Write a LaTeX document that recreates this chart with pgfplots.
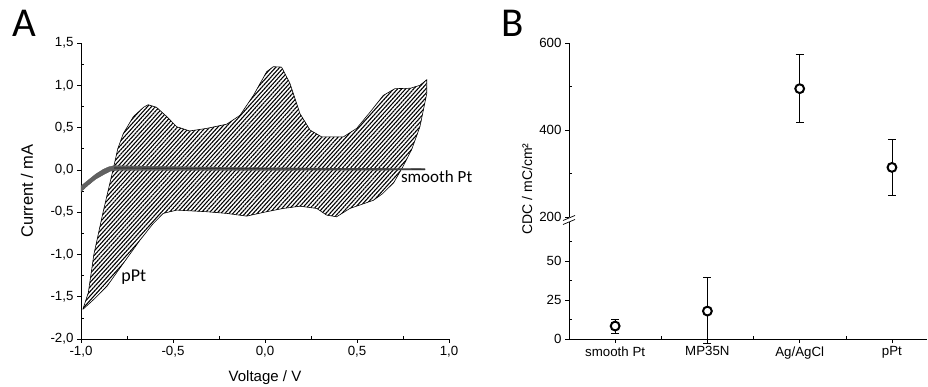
\documentclass[border=0pt]{standalone}
\usepackage{fontspec}
\setmainfont{Liberation Sans}
\newfontfamily\calfont{Carlito}
\usepackage{pgfplots}
\pgfplotsset{compat=1.18}
\usetikzlibrary{patterns.meta}
\begin{document}
\begin{tikzpicture}[x=1pt,y=1pt]
\useasboundingbox (0,0) rectangle (928,387);
\pgfplotsset{
  myaxis/.style={
    scale only axis,
    axis line style={line width=0.7pt},
    every tick/.style={black, line width=0.6pt},
    major tick length=4pt, minor tick length=3pt,
    tick align=outside,
    tick label style={font=\fontsize{13.3}{13.3}\selectfont},
    /pgf/number format/assume math mode=true,
  },
  cdcpts/.style={only marks, mark=*, mark size=4.4pt,
    mark options={draw=black, fill=white, line width=2pt},
    error bars/.cd, y dir=both, y explicit,
    error bar style={line width=0.8pt, black},
    error mark options={rotate=90, mark size=4pt, line width=0.8pt, black}},
}
% ---------------- Panel A ----------------
\begin{axis}[myaxis,
  at={(81pt,48pt)}, anchor=south west,
  width=368pt, height=296pt,
  xmin=-1, xmax=1, ymin=-2, ymax=1.5,
  axis x line*=bottom, axis y line*=left,
  xtick={-1,-0.5,0,0.5,1},
  ytick={-2,-1.5,-1,-0.5,0,0.5,1,1.5},
  minor x tick num=1, minor y tick num=1,
  minor x tick style={yshift=3pt},
  minor y tick style={xshift=3pt},
  /pgf/number format/.cd, use comma, fixed, fixed zerofill, precision=1,
  /pgfplots/.cd,
  xlabel={Voltage / V},
  ylabel={Current / mA},
  xlabel style={at={([yshift=-39pt]rel axis cs:0.5,0)}, anchor=center, font=\fontsize{15}{15}\selectfont},
  ylabel style={at={([xshift=-54pt]rel axis cs:0,0.5)}, anchor=center, font=\fontsize{16.5}{16.5}\selectfont},
  clip=false,
]
\addplot[draw=black, line width=0.6pt, pattern={Lines[angle=48,distance=3pt,line width=1.1pt]}] coordinates {
(-0.99,-1.65) (-0.96,-1.45) (-0.93,-1.0) (-0.88,-0.5) (-0.826,0.0) (-0.80,0.25)
(-0.77,0.43) (-0.715,0.63) (-0.66,0.74) (-0.635,0.77) (-0.59,0.74) (-0.534,0.63)
(-0.48,0.51) (-0.41,0.46) (-0.317,0.49) (-0.208,0.54) (-0.136,0.645) (-0.063,0.88)
(0.009,1.16) (0.045,1.22) (0.09,1.215) (0.136,1.02) (0.19,0.665) (0.245,0.47)
(0.308,0.39) (0.426,0.39) (0.498,0.49) (0.57,0.68) (0.643,0.88) (0.706,0.96)
(0.79,0.965) (0.842,1.0) (0.879,1.065) (0.879,0.9) (0.86,0.7) (0.842,0.51)
(0.797,0.24) (0.75,0.04) (0.70,-0.15) (0.64,-0.28) (0.589,-0.36) (0.462,-0.456)
(0.389,-0.555) (0.335,-0.535) (0.281,-0.456) (0.19,-0.43) (0.1,-0.456) (0.009,-0.495)
(-0.1,-0.547) (-0.208,-0.515) (-0.317,-0.495) (-0.48,-0.476) (-0.553,-0.515)
(-0.607,-0.633) (-0.679,-0.83) (-0.77,-1.105) (-0.86,-1.38) (-0.933,-1.537) (-0.99,-1.65)
};
\addplot[draw=black!70, fill=black!62, line width=0.3pt] coordinates {
(-1,-0.19) (-0.96,-0.12) (-0.92,-0.05) (-0.88,0.005) (-0.85,0.035) (-0.82,0.05)
(-0.7,0.045) (-0.4,0.035) (0,0.025) (0.5,0.018) (0.87,0.014)
(0.87,-0.002) (0.5,-0.004) (0,-0.005) (-0.4,-0.005) (-0.7,-0.005) (-0.8,-0.005) (-0.84,-0.015)
(-0.88,-0.06) (-0.92,-0.11) (-0.96,-0.18) (-1,-0.26) (-1,-0.19)
};
\addplot[black!80, line width=1.2pt] coordinates {(-0.82,0.022) (0,0.012) (0.87,0.008)};
\node[anchor=west, font=\calfont\fontsize{17}{17}\selectfont] at (axis cs:0.72,-0.08) {smooth Pt};
\node[anchor=west, font=\calfont\fontsize{18}{18}\selectfont] at (axis cs:-0.8,-1.27) {pPt};
\end{axis}
\node[anchor=base west, font=\calfont\fontsize{41}{41}\selectfont, inner sep=0pt] at (12,350) {A};
% ---------------- Panel B lower ----------------
\begin{axis}[myaxis,
  at={(569pt,48pt)}, anchor=south west,
  width=358pt, height=117pt,
  xmin=-0.5, xmax=3.38, ymin=0, ymax=75,
  axis x line*=bottom, axis y line*=left,
  xtick={0,1,2,3}, xticklabels={smooth Pt, MP35N, Ag/AgCl, pPt},
  minor xtick={0.5,1.5,2.5},
  ytick={0,25,50}, minor ytick={12.5,37.5,62.5},
  minor x tick style={yshift=3pt},
  minor y tick style={xshift=3pt},
  clip=false,
]
\addplot[cdcpts] coordinates {
(0,8.3) += (0,4.5) -= (0,4.7)
(1,17.9) += (0,21.4) -= (0,20.5)
};
\end{axis}
% ---------------- Panel B upper ----------------
\begin{axis}[myaxis,
  at={(569pt,170pt)}, anchor=south west,
  width=358pt, height=174pt,
  xmin=-0.5, xmax=3.38, ymin=200, ymax=600,
  axis x line=none, axis y line*=left,
  ytick={200,400,600}, minor ytick={300,500},
  minor y tick style={xshift=3pt},
  ylabel={CDC / mC/cm²},
  ylabel style={at={([xshift=-42pt]rel axis cs:0,0.16)}, anchor=center, font=\fontsize{14}{14}\selectfont},
  clip=false,
]
\addplot[cdcpts] coordinates {
(2,495) += (0,78) -= (0,77)
(3,314) += (0,65) -= (0,65)
};
\end{axis}
% axis break marks
\draw[line width=0.7pt] (563,166.5) -- (575,171.5);
\draw[line width=0.7pt] (563,162.5) -- (575,167.5);
\node[anchor=base west, font=\calfont\fontsize{41}{41}\selectfont, inner sep=0pt] at (501,350) {B};
\end{tikzpicture}
\end{document}
